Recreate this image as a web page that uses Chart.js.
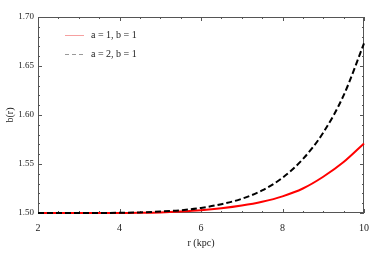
<!DOCTYPE html>
<html>
<head>
<meta charset="utf-8">
<script src="https://cdn.jsdelivr.net/npm/chart.js@4"></script>
<style>
    html, body { margin: 0; padding: 0; background: #fff; }
    #wrap { width: 382px; height: 253px; position: relative; }
</style>
</head>
<body>
<div id="wrap"><canvas id="chart" width="382" height="253"></canvas></div>
<script>
    // values
    const radius = [2, 2.5, 3, 3.5, 4, 4.5, 5, 5.5, 6, 6.5, 7, 7.5, 8, 8.5, 9, 9.5, 10];
    const curveA1 = [1.5, 1.5, 1.5, 1.5, 1.5, 1.5002, 1.5006, 1.5015, 1.5028, 1.5048, 1.5076, 1.5115, 1.517, 1.525, 1.537, 1.552, 1.571];
    const curveA2 = [1.5, 1.5, 1.5, 1.5, 1.5002, 1.5006, 1.5015, 1.5028, 1.5052, 1.509, 1.5145, 1.523, 1.536, 1.555, 1.582, 1.62, 1.673];
    const xTicks = [2, 4, 6, 8, 10];
    const yTicks = [1.50, 1.55, 1.60, 1.65, 1.70];
    const labels = ["a = 1, b = 1", "a = 2, b = 1"];

    const serif = "'Liberation Serif', 'DejaVu Serif', serif";
    const frameColor = "#555";

    const toPoints = (ys) => radius.map((r, i) => ({ x: r, y: ys[i] }));

    // frame, inward ticks on all four sides, and the inset legend
    const framePlugin = {
        id: "frame",
        beforeDatasetsDraw(chart) {
            const { ctx, chartArea: a, scales } = chart;
            const xs = scales.x, ys = scales.y;
            ctx.save();
            ctx.strokeStyle = frameColor;
            ctx.lineWidth = 1;
            ctx.strokeRect(a.left + 0.5, a.top + 0.5, a.right - a.left - 1, a.bottom - a.top - 1);

            ctx.beginPath();
            for (let v = 2; v <= 10.001; v += 0.5) {
                const len = Math.abs(v % 2) < 0.001 ? 4 : 2;
                const px = Math.round(xs.getPixelForValue(v)) + 0.5;
                ctx.moveTo(px, a.bottom); ctx.lineTo(px, a.bottom - len);
                ctx.moveTo(px, a.top); ctx.lineTo(px, a.top + len);
            }
            for (let i = 0; i <= 20; i++) {
                const v = 1.5 + i * 0.01;
                const len = i % 5 === 0 ? 4 : 2;
                const py = Math.round(ys.getPixelForValue(v)) + 0.5;
                ctx.moveTo(a.left, py); ctx.lineTo(a.left + len, py);
                ctx.moveTo(a.right, py); ctx.lineTo(a.right - len, py);
            }
            ctx.stroke();

            // legend
            const items = [
                { text: labels[0], color: "#f6a0a0", dash: [] },
                { text: labels[1], color: "#999", dash: [4, 3] }
            ];
            ctx.font = "10px " + serif;
            ctx.textBaseline = "middle";
            items.forEach((it, i) => {
                const y = 35.5 + i * 19;
                ctx.beginPath();
                ctx.setLineDash(it.dash);
                ctx.strokeStyle = it.color;
                ctx.lineWidth = 1;
                ctx.moveTo(65, y); ctx.lineTo(84, y);
                ctx.stroke();
                ctx.setLineDash([]);
                ctx.fillStyle = "#222";
                ctx.fillText(it.text, 91, y);
            });
            ctx.restore();
        }
    };

    new Chart(document.getElementById("chart"), {
        type: "line",
        data: {
            datasets: [
                { label: labels[0], data: toPoints(curveA1), borderColor: "#f00", borderWidth: 2, order: 1, clip: false },
                { label: labels[1], data: toPoints(curveA2), borderColor: "#000", borderWidth: 2, borderDash: [6, 3], order: 0, clip: false }
            ]
        },
        options: {
            responsive: false,
            animation: false,
            layout: { padding: { top: 17, right: 18, left: 0, bottom: 0 } },
            elements: { point: { radius: 0 }, line: { cubicInterpolationMode: "monotone", fill: false } },
            plugins: { legend: { display: false }, tooltip: { enabled: false } },
            scales: {
                x: {
                    type: "linear", min: 2, max: 10,
                    afterBuildTicks: (s) => { s.ticks = xTicks.map((v) => ({ value: v })); },
                    afterFit: (s) => { s.height = 40; },
                    grid: { drawOnChartArea: false, drawTicks: false },
                    border: { display: false },
                    ticks: { color: "#222", padding: 9, maxRotation: 0, font: { family: serif, size: 10 }, callback: (v) => String(v) },
                    title: { display: true, text: "r (kpc)", color: "#222", font: { family: serif, size: 10 }, padding: { top: 6 } }
                },
                y: {
                    type: "linear", min: 1.5, max: 1.7,
                    afterBuildTicks: (s) => { s.ticks = yTicks.map((v) => ({ value: v })); },
                    afterFit: (s) => { s.width = 38; },
                    grid: { drawOnChartArea: false, drawTicks: false },
                    border: { display: false },
                    ticks: { color: "#222", padding: 4, font: { family: serif, size: 9 }, callback: (v) => Number(v).toFixed(2) },
                    title: { display: true, text: "b(r)", color: "#222", font: { family: serif, size: 10 }, padding: { bottom: 2 } }
                }
            }
        },
        plugins: [framePlugin]
    });
</script>
</body>
</html>
